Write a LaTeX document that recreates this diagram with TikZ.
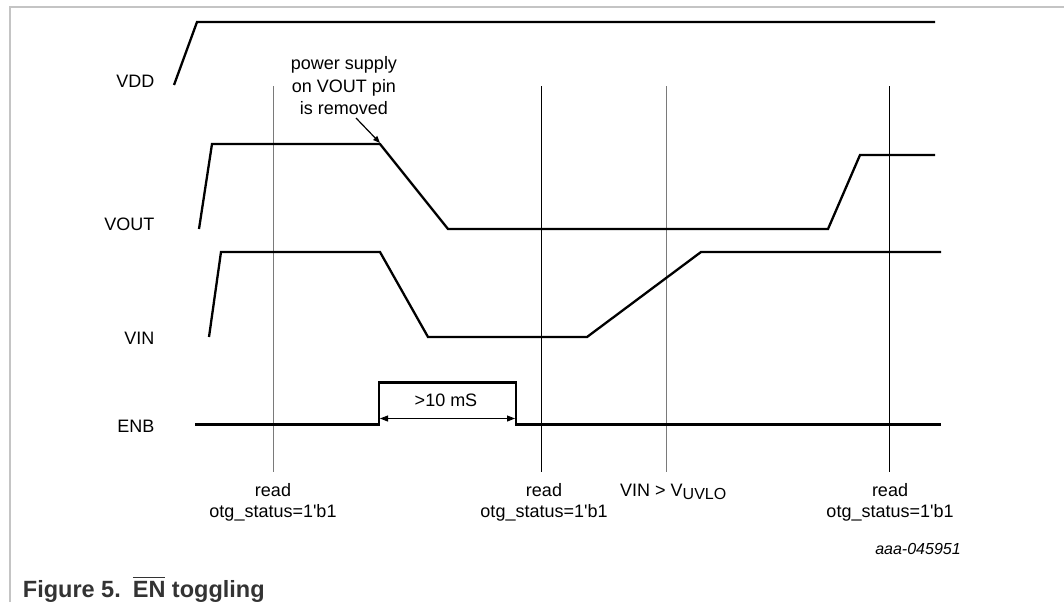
\documentclass[tikz,border=0pt]{standalone}
\usepackage{fontspec}
\setmainfont{Liberation Sans}[Ligatures=TeXOff]
\usetikzlibrary{arrows.meta}
\definecolor{framec}{HTML}{C4C4C4}
\definecolor{guidec}{HTML}{7A7A7A}
\definecolor{capc}{HTML}{333333}
\newcommand\barred[1]{\setbox0\hbox{#1}\rlap{\raisebox{19.2pt}{\rule{\wd0}{1.4pt}}}\box0\relax}
\newcommand\otg{otg\_status=1'b1}
\tikzset{
  sig/.style={line width=2.3pt, line join=miter, black},
  guideblack/.style={line width=1pt, black},
  guidegray/.style={line width=1pt, guidec},
  siglabel/.style={anchor=base east, inner sep=0pt, font=\fontsize{18}{22}\selectfont},
  readlabel/.style={anchor=north, inner sep=0pt, align=center, font=\fontsize{18}{21.5}\selectfont},
  tip/.style={-{Triangle[length=7pt,width=5.5pt]}},
  dimtip/.style={{Triangle[length=8pt,width=6pt]}-{Triangle[length=8pt,width=6pt]}},
}
\begin{document}
\begin{tikzpicture}[x=1pt,y=-1pt]
\useasboundingbox (0,0) rectangle (1064,602);
% frame
\draw[framec, line width=1.3pt] (10,602) -- (10,7) -- (1064,7);

% guide lines
\draw[guidegray]  (273,86) -- (273,472);
\draw[guideblack] (541,86) -- (541,472);
\draw[guidegray]  (666,86) -- (666,472);
\draw[guideblack] (889,86) -- (889,472);

% signal labels
\node[siglabel] (lvdd)  at (154.5,87)  {VDD};
\node[siglabel] (lvout) at (154.5,230) {VOUT};
\node[siglabel] (lvin)  at (154.5,344) {VIN};
\node[siglabel] (lenb)  at (154.5,432) {ENB};

% waveforms
\draw[sig] (174,85) -- (197,22) -- (935,22);
\draw[sig] (199,229) -- (212,144) -- (380,144) -- (448,229) -- (828,229) -- (860,155) -- (935,155);
\draw[sig] (209,337) -- (221,252) -- (380,252) -- (428,337) -- (587,337) -- (701,252) -- (941,252);
\draw[sig] (195,424.5) -- (379,424.5) -- (379,382.5) -- (516,382.5) -- (516,424.5) -- (941,424.5);

% annotation
\node[readlabel, font=\fontsize{18}{22.5}\selectfont] (note) at (344,56.6) {power supply\\on VOUT pin\\is removed};
\coordinate (nstart) at (356,118);
\coordinate (nend) at (380,143);
\draw[tip, line width=1.2pt] (nstart) -- (nend);

% pulse width
\coordinate (pa) at (380,418.5);
\coordinate (pb) at (515,418.5);
\draw[dimtip, line width=1pt] (pa) -- (pb);
\node[anchor=base, inner sep=0pt, font=\fontsize{18}{22}\selectfont] (pw) at (446,406.5) {>10 mS};

% bottom labels
\node[readlabel] (r1) at (273,483.1) {read\\\otg};
\node[readlabel] (r2) at (544,483.1) {read\\\otg};
\node[readlabel] (r3) at (890,483.1) {read\\\otg};
\node[anchor=base west, inner sep=0pt, font=\fontsize{18}{22}\selectfont] (uvlo) at (620,496.5)
  {VIN > V\raisebox{-2.7pt}{\fontsize{16}{16}\selectfont UVLO}};

% figure id
\node[anchor=base, inner sep=0pt, font=\fontsize{16}{16}\selectfont\itshape] (fid) at (918,554) {aaa-045951};

% caption
\node[anchor=base west, inner sep=0pt, text=capc, font=\fontsize{23.5}{26}\selectfont\bfseries] (cap) at (22.7,597.3)
  {Figure 5.\hspace{12pt}\barred{EN} toggling};
\end{tikzpicture}
\end{document}
